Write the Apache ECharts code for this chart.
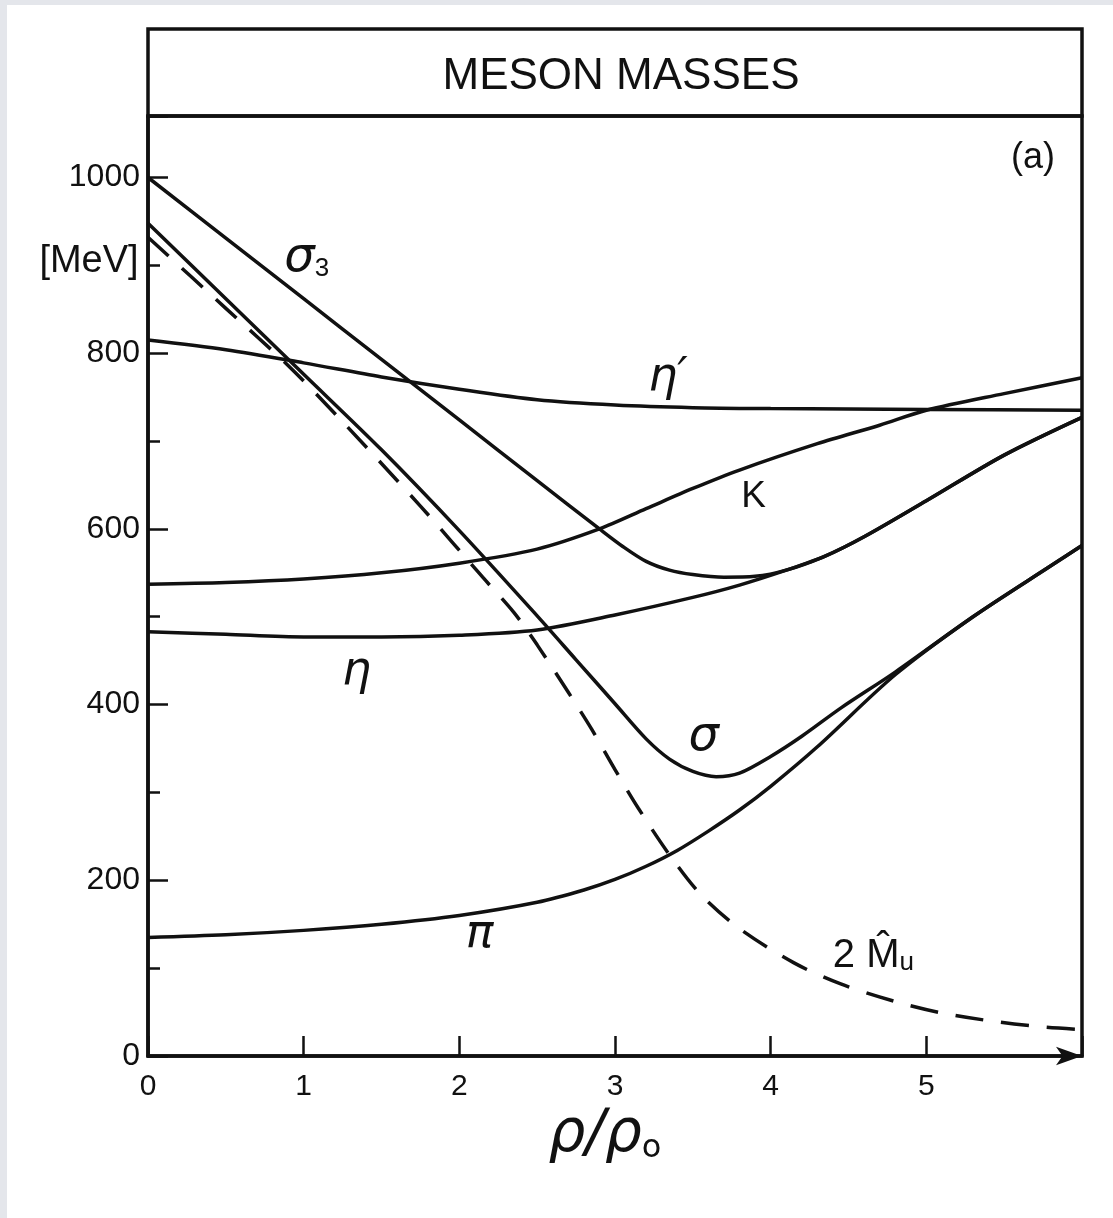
<!DOCTYPE html>
<html>
<head>
<meta charset="utf-8">
<script src="https://cdn.jsdelivr.net/npm/echarts@6/dist/echarts.min.js"></script>
<style>
  html, body { margin: 0; padding: 0; background: #ffffff; }
  #chart { width: 1113px; height: 1218px; }
</style>
</head>
<body>
<div id="chart"></div>
<script>
// Density axis (rho / rho_0) and mass axis (MeV)
const rhoTicks = [0, 1, 2, 3, 4, 5];
const massTicks = [0, 200, 400, 600, 800, 1000];

// Meson masses vs. density, [rho/rho0, MeV]
const sigma3 = [[0,1000],[0.5,931],[1,862],[1.5,793],[2,724],[2.5,655],[2.9,600],[3.05,580],[3.2,563],[3.35,553],[3.5,548],[3.7,545],[3.9,546],[4.1,553],[4.35,569],[4.6,591],[5,632],[5.5,684],[6,727]];
const etaPrime = [[0,815],[0.5,804],[1,789],[1.5,773],[2,759],[2.5,747],[3,741],[3.5,738],[4,737],[5,736],[6,735]];
const kaon = [[0,537],[0.5,539],[1,543],[1.5,550],[2,561],[2.5,577],[2.9,600],[3.2,623],[3.5,646],[3.8,667],[4.3,697],[4.7,718],[5,735],[5.5,754],[6,772]];
const eta = [[0,483],[0.5,480],[1,477],[1.5,477],[2,479],[2.5,485],[3,502],[3.5,522],[3.8,536],[4.1,553],[4.35,569],[4.6,591],[5,632],[5.5,684],[6,727]];
const sigma = [[0,948],[0.5,862],[1,776],[1.5,690],[2,598],[2.5,501],[2.75,451],[3,401],[3.2,361],[3.35,338],[3.5,324],[3.65,318],[3.8,322],[4,341],[4.2,364],[4.45,396],[4.8,437],[5.3,500],[5.8,558],[6,581]];
const pion = [[0,135],[0.5,138],[1,143],[1.5,150],[2,160],[2.5,175],[2.8,189],[3,201],[3.2,216],[3.4,234],[3.6,256],[3.8,280],[4,307],[4.3,352],[4.8,434],[5.3,500],[5.8,558],[6,581]];
const quarkMass2 = [[0,932],[0.5,851],[0.9,786],[1.25,722],[1.75,626],[2.15,545],[2.35,505],[2.5,468],[2.7,414],[2.85,372],[3,326],[3.15,282],[3.35,229],[3.55,184],[3.8,145],[4.15,106],[4.45,82],[4.8,62],[5.1,49],[5.45,39],[5.75,33],[6,30]];

const INK = '#111111';
const greek = { fontFamily: 'DejaVu Sans', fontStyle: 'italic', color: INK };

function curve(name, data, label, at, dashed) {
  return {
    name: name,
    type: 'line',
    data: data,
    showSymbol: false,
    smooth: 0.3,
    lineStyle: { color: INK, width: 3.5, type: dashed ? [28, 18] : 'solid' },
    z: 3,
    markPoint: {
      symbol: 'circle',
      symbolSize: 1,
      itemStyle: { color: 'rgba(0,0,0,0)' },
      label: Object.assign({ show: true, position: 'inside' }, label),
      data: [{ coord: at }]
    }
  };
}

const chart = echarts.init(document.getElementById('chart'), null, { renderer: 'canvas' });

const option = {
  backgroundColor: '#ffffff',
  animation: false,
  grid: {
    left: 148, right: 31, top: 116, bottom: 162,
    show: true, borderColor: INK, borderWidth: 3.5, backgroundColor: 'transparent'
  },
  xAxis: {
    type: 'value', min: 0, max: 6, interval: 1,
    axisLine: { lineStyle: { color: INK, width: 3.5 }, symbol: ['none', 'arrow'], symbolSize: [14, 26] },
    axisTick: { inside: true, length: 20, lineStyle: { color: INK, width: 2.5 } },
    axisLabel: {
      margin: 16, fontSize: 30, fontFamily: 'Liberation Sans', color: INK,
      formatter: v => rhoTicks.includes(v) ? String(v) : ''
    },
    splitLine: { show: false },
    name: '{a|ρ/ρ}{s|o}',
    nameLocation: 'middle',
    nameGap: 30,
    nameTextStyle: {
      padding: [0, 20, 0, 0],
      rich: {
        a: { fontSize: 58, fontFamily: 'DejaVu Sans', fontStyle: 'italic', color: INK },
        s: { fontSize: 32, fontFamily: 'DejaVu Sans', color: INK, verticalAlign: 'bottom' }
      }
    }
  },
  yAxis: [
    {
      type: 'value', min: 0, max: 1070, interval: 200,
      axisLine: { lineStyle: { color: INK, width: 3.5 } },
      axisTick: { inside: true, length: 20, lineStyle: { color: INK, width: 2.5 } },
      axisLabel: {
        margin: 8, fontSize: 32, fontFamily: 'Liberation Sans', color: INK,
        formatter: v => massTicks.includes(v) ? String(v) : ''
      },
      splitLine: { show: false }
    },
    {
      type: 'value', min: 0, max: 1070, interval: 100, position: 'left',
      axisLine: { show: false },
      axisTick: { inside: true, length: 12, lineStyle: { color: INK, width: 2.5 } },
      axisLabel: { show: false },
      splitLine: { show: false }
    }
  ],
  graphic: [
    { type: 'rect', left: 0, top: 0, shape: { width: 7, height: 1218 }, style: { fill: '#e4e6eb' } },
    { type: 'rect', left: 0, top: 0, shape: { width: 1113, height: 5 }, style: { fill: '#e4e6eb' } },
    { type: 'rect', shape: { x: 148, y: 29, width: 934, height: 87 }, style: { fill: 'none', stroke: INK, lineWidth: 3.5 } },
    { type: 'text', x: 621, y: 77, style: { text: 'MESON MASSES', fill: INK, fontSize: 44, fontFamily: 'Liberation Sans', align: 'center', verticalAlign: 'middle' } },
    { type: 'text', x: 89, y: 262, style: { text: '[MeV]', fill: INK, fontSize: 38, fontFamily: 'Liberation Sans', align: 'center', verticalAlign: 'middle' } },
    { type: 'text', x: 1033, y: 158, style: { text: '(a)', fill: INK, fontSize: 36, fontFamily: 'Liberation Sans', align: 'center', verticalAlign: 'middle' } }
  ],
  series: [
    curve('σ3', sigma3, {
      formatter: '{g|σ}{s|3}',
      rich: { g: Object.assign({ fontSize: 48 }, greek), s: { fontSize: 26, fontFamily: 'Liberation Sans', color: INK, verticalAlign: 'bottom' } }
    }, [1.02, 908]),
    curve("η'", etaPrime, { formatter: 'η′', fontSize: 46, fontFamily: 'DejaVu Sans', fontStyle: 'italic', color: INK }, [3.34, 772]),
    curve('K', kaon, { formatter: 'K', fontSize: 37, fontFamily: 'Liberation Sans', color: INK }, [3.89, 636]),
    curve('η', eta, { formatter: 'η', fontSize: 46, fontFamily: 'DejaVu Sans', fontStyle: 'italic', color: INK }, [1.34, 437]),
    curve('σ', sigma, { formatter: 'σ', fontSize: 48, fontFamily: 'DejaVu Sans', fontStyle: 'italic', color: INK }, [3.57, 362]),
    curve('π', pion, { formatter: 'π', fontSize: 46, fontFamily: 'DejaVu Sans', fontStyle: 'italic', color: INK }, [2.13, 138]),
    curve('2M̂u', quarkMass2, {
      formatter: '{n|2 M̂}{s|u}',
      rich: { n: { fontSize: 40, fontFamily: 'Liberation Sans', color: INK }, s: { fontSize: 26, fontFamily: 'Liberation Sans', color: INK, verticalAlign: 'bottom' } }
    }, [4.66, 114], true)
  ]
};

chart.setOption(option);
</script>
</body>
</html>
